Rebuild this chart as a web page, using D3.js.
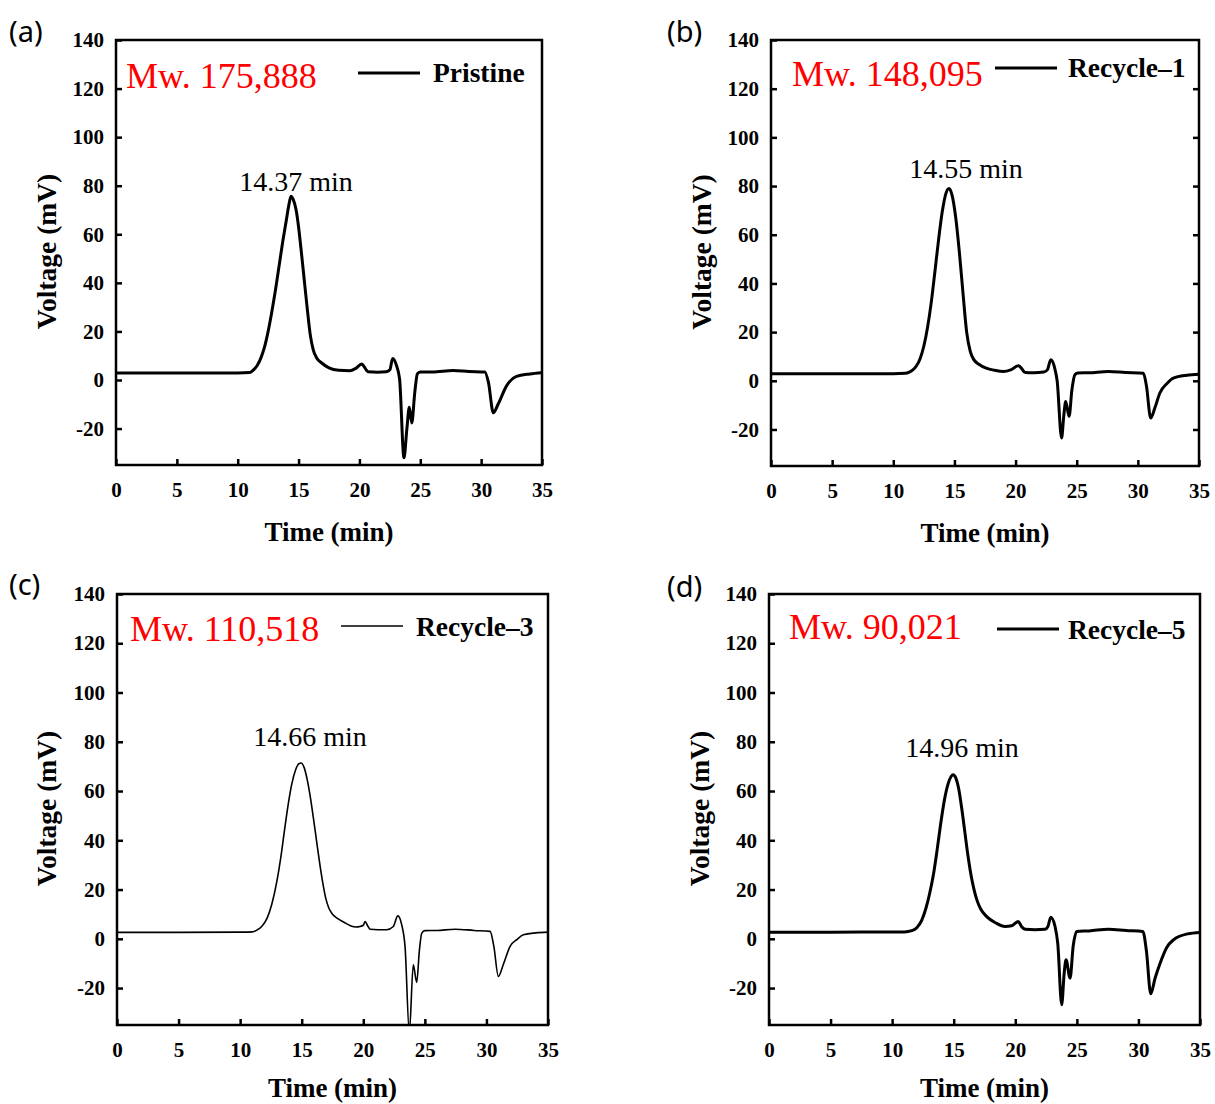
<!DOCTYPE html>
<html><head><meta charset="utf-8">
<script src="https://cdn.jsdelivr.net/npm/d3@7/dist/d3.min.js"></script>
<style>body{margin:0;background:#fff}</style>
</head><body>
<svg id="chart" width="1215" height="1104" xmlns="http://www.w3.org/2000/svg"></svg>
<script>
// ---------------- data ----------------
const xTicks = [0, 5, 10, 15, 20, 25, 30, 35];
const yTicks = [-20, 0, 20, 40, 60, 80, 100, 120, 140];
const xDomain = [0, 35];
const yDomain = [-35, 140];

const panelLetters = ["(a)", "(b)", "(c)", "(d)"];
const seriesNames = ["Pristine", "Recycle\u20131", "Recycle\u20133", "Recycle\u20135"];
const mwLabels = ["Mw. 175,888", "Mw. 148,095", "Mw. 110,518", "Mw. 90,021"];
const peakLabels = ["14.37 min", "14.55 min", "14.66 min", "14.96 min"];

const pristineT = [0, 5, 10, 11.0, 11.3, 11.6, 11.9, 12.2, 12.5, 12.8, 13.1, 13.4, 13.7, 14.0, 14.2, 14.38, 14.55, 14.8, 15.0, 15.2, 15.45, 15.7, 15.95, 16.2, 16.5, 16.9, 17.5, 18.3, 19.2, 19.7, 20.19, 20.45, 20.7, 21.5, 22.2, 22.5, 22.73, 23.05, 23.3, 23.66, 23.9, 24.1, 24.3, 24.55, 24.76, 24.98, 26, 27.7, 29, 30.3, 30.6, 31.0, 31.4, 32.1, 32.9, 34, 35];
const pristineV = [2.9, 2.9, 2.9, 3.1, 4.2, 6, 9, 13.5, 20, 28, 37, 47, 57, 66, 72, 75.7, 74.5, 70, 63, 54, 42, 30, 19, 12.5, 9, 7, 5, 4, 3.8, 4.8, 6.6, 5, 3.4, 3.2, 3.4, 4.2, 8.9, 5.9, 0.4, -32, -20, -11.2, -17.7, -5, 2.5, 3.3, 3.3, 3.9, 3.5, 3.3, -1, -13.5, -9.9, -2.3, 1.5, 2.5, 3.0];

const recycle1T = [0, 5, 10, 11.0, 11.3, 11.6, 11.9, 12.2, 12.5, 12.8, 13.1, 13.4, 13.7, 14.0, 14.3, 14.55, 14.8, 15.1, 15.4, 15.7, 16.0, 16.3, 16.6, 17.0, 17.6, 18.3, 19.0, 19.6, 20.24, 20.5, 20.78, 21.5, 22.3, 22.6, 22.88, 23.2, 23.4, 23.76, 23.95, 24.1, 24.38, 24.6, 24.85, 25.1, 26, 27.6, 29, 30.45, 30.7, 31.05, 31.4, 31.8, 32.4, 32.9, 34, 35];
const recycle1V = [2.9, 2.9, 2.9, 3.1, 3.6, 4.5, 6.2, 9.2, 14.3, 21.9, 32, 44.7, 57.8, 69.3, 76.9, 79, 76.4, 67.3, 53, 36, 20, 12, 8.6, 6.8, 5.2, 4.3, 3.8, 4.5, 6.2, 5, 3.4, 3.3, 3.6, 4.5, 8.6, 5.2, 0, -23.5, -14, -8.5, -14.6, -4, 2.5, 3.2, 3.3, 3.8, 3.4, 3.1, -2, -15.3, -11, -5, -1, 1.1, 2.3, 2.7];

const recycle3T = [0, 5, 10, 11.0, 11.35, 11.75, 12.2, 12.57, 12.97, 13.3, 13.6, 13.9, 14.2, 14.5, 14.75, 14.95, 15.2, 15.45, 15.7, 15.95, 16.2, 16.45, 16.7, 16.95, 17.2, 17.5, 17.9, 18.4, 19.0, 19.4, 19.74, 20.0, 20.15, 20.35, 20.55, 21.2, 21.9, 22.44, 22.8, 23.12, 23.39, 23.74, 24.06, 24.34, 24.55, 24.75, 25.0, 26, 27.46, 29, 30.3, 30.6, 30.97, 31.4, 31.92, 32.5, 33.0, 34, 35];
const recycle3V = [2.6, 2.6, 2.7, 2.8, 3.5, 5, 8.5, 14, 23, 33, 44, 54.5, 63, 68.5, 71, 71.4, 69.5, 64.5, 57.5, 49, 40, 31, 23, 16.5, 12.5, 10, 8.3, 6.8, 5.2, 4.8, 5, 5.5, 7, 5.3, 3.9, 3.7, 3.7, 5, 9.3, 5.7, -3.1, -38, -10.6, -17.7, -5, 2.3, 3.3, 3.4, 3.9, 3.4, 3, -3, -15.3, -10, -3.1, -0.2, 1.6, 2.4, 2.7];

const recycle5T = [0, 5, 10, 11.0, 11.6, 12.0, 12.4, 12.75, 13.05, 13.35, 13.65, 13.95, 14.25, 14.55, 14.8, 14.95, 15.15, 15.4, 15.65, 15.9, 16.15, 16.4, 16.65, 16.9, 17.2, 17.68, 18.4, 19.17, 19.7, 20.25, 20.5, 20.8, 21.6, 22.42, 22.65, 22.88, 23.23, 23.45, 23.77, 23.97, 24.12, 24.45, 24.7, 25.0, 26, 27.57, 29, 30.36, 30.65, 31.0, 31.35, 31.76, 32.3, 32.85, 34, 35];
const recycle5V = [2.7, 2.7, 2.8, 2.8, 3.3, 4.5, 7.5, 12.5, 18.5, 26, 36, 47, 56.5, 63, 66, 66.6, 65.5, 61, 53, 43.5, 34, 26, 20, 15.5, 12, 9, 6.5, 5, 5.3, 7, 5, 3.9, 3.7, 3.9, 5, 8.8, 5, -2, -26.8, -14, -8.5, -16, -3, 3, 3.2, 3.9, 3.4, 3, -5, -22.3, -16, -9.9, -3.5, -0.4, 2, 2.6];

const seriesT = [pristineT, recycle1T, recycle3T, recycle5T];
const seriesV = [pristineV, recycle1V, recycle3V, recycle5V];

// ---------------- layout ----------------
const layout = [
  {left:116, right:542, top:40, bottom:465, lw:3, letter:[9,30], ylab:46, xlabY:541,
   mw:[126,88], leg:[358,420,73], legText:[433,82], peak:[296,191], rightTicks:false},
  {left:771, right:1199, top:40, bottom:466, lw:3, letter:[667,30], ylab:701, xlabY:542,
   mw:[792,86], leg:[995,1057,68], legText:[1068,77], peak:[966,178], rightTicks:true},
  {left:117, right:548, top:594, bottom:1025, lw:1.6, letter:[9,583], ylab:46, xlabY:1097,
   mw:[130,641], leg:[341,403,626], legText:[416,636], peak:[310,746], rightTicks:false},
  {left:769, right:1200, top:594, bottom:1025, lw:3, letter:[667,585], ylab:699, xlabY:1097,
   mw:[789,639], leg:[997,1059,629], legText:[1068,639], peak:[962,757], rightTicks:false}
];

const serif = "'Liberation Serif','Times New Roman',serif";
const sans = "'Noto Sans','Open Sans',sans-serif";
const svg = d3.select("#chart");

layout.forEach((L, i) => {
  const x = d3.scaleLinear().domain(xDomain).range([L.left, L.right]);
  const y = d3.scaleLinear().domain(yDomain).range([L.bottom, L.top]);
  const g = svg.append("g");

  const clipId = "clip" + i;
  svg.append("clipPath").attr("id", clipId).append("rect")
    .attr("x", L.left).attr("y", L.top).attr("width", L.right - L.left).attr("height", L.bottom - L.top);

  // data line
  const pts = seriesT[i].map((t, k) => [t, seriesV[i][k]]);
  const line = d3.line().x(d => x(d[0])).y(d => y(d[1])).curve(d3.curveMonotoneX);
  g.append("path").datum(pts).attr("d", line).attr("fill", "none")
    .attr("stroke", "#000").attr("stroke-width", L.lw).attr("stroke-linejoin", "round")
    .attr("clip-path", `url(#${clipId})`);

  // axes (ticks inward)
  const fmt = d => String(d);
  const yAx = g.append("g").attr("transform", `translate(${L.left},0)`)
    .call(d3.axisLeft(y).tickValues(yTicks).tickSize(-6).tickPadding(12).tickFormat(fmt));
  const xAx = g.append("g").attr("transform", `translate(0,${L.bottom})`)
    .call(d3.axisBottom(x).tickValues(xTicks).tickSize(-6).tickPadding(17).tickFormat(fmt));
  [yAx, xAx].forEach(a => {
    a.select(".domain").remove();
    a.selectAll(".tick line").attr("stroke", "#000").attr("stroke-width", 2.5);
    a.selectAll(".tick text").attr("fill", "#000").style("font-family", serif)
      .style("font-weight", "bold").style("font-size", "21px");
  });
  if (L.rightTicks) {
    const rAx = g.append("g").attr("transform", `translate(${L.right},0)`)
      .call(d3.axisRight(y).tickValues(yTicks.filter(v => v < 140)).tickSize(-6).tickFormat(""));
    rAx.select(".domain").remove();
    rAx.selectAll(".tick line").attr("stroke", "#000").attr("stroke-width", 2.5);
  }

  // frame
  g.append("rect").attr("x", L.left).attr("y", L.top)
    .attr("width", L.right - L.left).attr("height", L.bottom - L.top)
    .attr("fill", "none").attr("stroke", "#000").attr("stroke-width", 2.5);

  // axis titles
  g.append("text").attr("x", (L.left + L.right) / 2).attr("y", L.xlabY)
    .attr("text-anchor", "middle").style("font-family", serif).style("font-weight", "bold")
    .style("font-size", "27px").text("Time (min)");
  g.append("text").attr("transform", `translate(${L.ylab},${(L.top + L.bottom) / 2 - 1}) rotate(-90)`)
    .attr("text-anchor", "middle").attr("dominant-baseline", "central")
    .style("font-family", serif).style("font-weight", "bold")
    .style("font-size", "27.5px").text("Voltage (mV)");

  // panel letter
  g.append("text").attr("x", L.letter[0]).attr("y", L.letter[1])
    .attr("dominant-baseline", "central").style("font-family", sans)
    .style("font-size", "29px").text(panelLetters[i]);

  // Mw label
  g.append("text").attr("x", L.mw[0]).attr("y", L.mw[1]).attr("fill", "#ff0000")
    .style("font-family", serif).style("font-size", "36px").text(mwLabels[i]);

  // legend
  g.append("line").attr("x1", L.leg[0]).attr("x2", L.leg[1]).attr("y1", L.leg[2]).attr("y2", L.leg[2])
    .attr("stroke", "#000").attr("stroke-width", L.lw);
  g.append("text").attr("x", L.legText[0]).attr("y", L.legText[1])
    .style("font-family", serif).style("font-weight", "bold").style("font-size", "27.5px")
    .text(seriesNames[i]);

  // peak label
  g.append("text").attr("x", L.peak[0]).attr("y", L.peak[1]).attr("text-anchor", "middle")
    .style("font-family", serif).style("font-size", "28px").text(peakLabels[i]);
});
</script>
</body></html>
